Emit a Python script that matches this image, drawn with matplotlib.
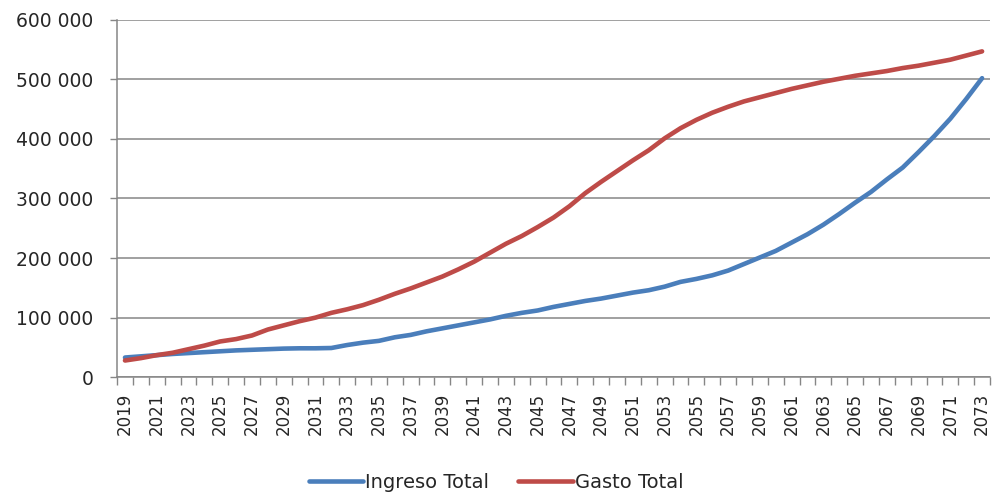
import numpy as np
import matplotlib.pyplot as plt
from matplotlib.ticker import FuncFormatter, FixedLocator

years = list(range(2019, 2074))

ingreso_total = [
    33000, 35000, 37000, 39000, 40500, 42000, 43500, 45000, 46000, 47000,
    48000, 48500, 48500, 49000, 54000, 58000, 61000, 67000, 71000, 77000,
    82000, 87000, 92000, 97000, 103000, 108000, 112000, 118000, 123000, 128000,
    132000, 137000, 142000, 146000, 152000, 160000, 165000, 171000, 179000, 190000,
    201000, 212000, 226000, 240000, 256000, 274000, 293000, 311000, 332000, 352000,
    378000, 405000, 434000, 467000, 502000,
]

gasto_total = [
    28000, 32000, 37000, 41000, 47000, 53000, 60000, 64000, 70000, 80000,
    87000, 94000, 100000, 108000, 114000, 121000, 130000, 140000, 149000, 159000,
    169000, 181000, 194000, 209000, 224000, 237000, 252000, 268000, 287000, 309000,
    328000, 346000, 364000, 381000, 401000, 418000, 432000, 444000, 454000, 463000,
    470000, 477000, 484000, 490000, 496000, 501000, 506000, 510000, 514000, 519000,
    523000, 528000, 533000, 540000, 547000,
]

blue = "#4A7EBB"
red = "#BE4B48"
grid_gray = "#868686"
text_col = "#262626"

plt.rcParams["font.family"] = ["DejaVu Sans"]

fig = plt.figure(figsize=(9.92, 4.95), dpi=100)
ax = fig.add_axes([0.118, 0.238, 0.880, 0.722])

x = np.arange(len(years))
ax.plot(x, ingreso_total, color=blue, lw=3.3, label="Ingreso Total", solid_capstyle="round")
ax.plot(x, gasto_total, color=red, lw=3.3, label="Gasto Total", solid_capstyle="round")

ax.set_xlim(-0.5, len(years) - 0.5)
ax.set_ylim(0, 600000)
ax.set_yticks(np.arange(0, 600001, 100000))
ax.yaxis.set_major_formatter(FuncFormatter(lambda v, p: f"{v:,.0f}".replace(",", " ")))
ax.grid(axis="y", color=grid_gray, lw=1.1)
ax.set_axisbelow(True)

# year labels every other category, tick marks on category boundaries
ax.set_xticks(x[::2])
ax.set_xticklabels([str(y) for y in years[::2]], rotation=90)
ax.xaxis.set_minor_locator(FixedLocator(np.arange(-0.5, len(years), 1)))
ax.tick_params(axis="x", which="major", length=0, pad=11, labelsize=12, labelcolor=text_col)
ax.tick_params(axis="x", which="minor", length=5.5, color=grid_gray, width=1)
ax.tick_params(axis="y", length=5, color=grid_gray, width=1, labelsize=13.5,
               labelcolor=text_col, pad=12)

for side in ["top", "right"]:
    ax.spines[side].set_visible(False)
for side in ["left", "bottom"]:
    ax.spines[side].set_color(grid_gray)
    ax.spines[side].set_linewidth(1.1)

fig.legend(loc="center", bbox_to_anchor=(0.5, 0.026), ncol=2, frameon=False,
           fontsize=14, handlelength=2.8, handletextpad=0.1, columnspacing=1.5,
           labelcolor=text_col)

plt.savefig("out.png", dpi=100)
